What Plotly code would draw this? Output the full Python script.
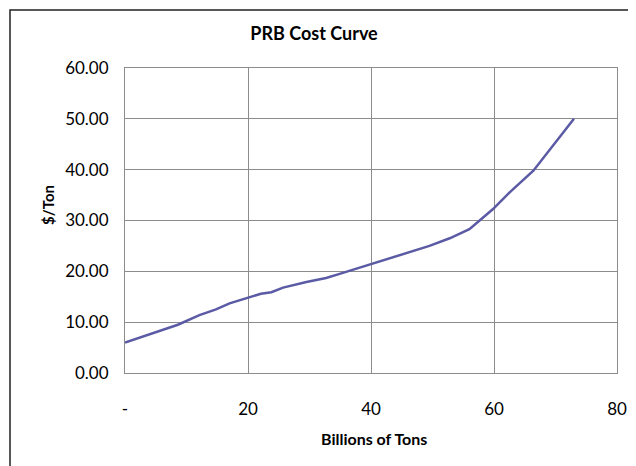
import plotly.graph_objects as go

# Data
billions_tons = [0, 8.6, 12.1, 14.8, 17.0, 20.0, 22.1, 23.8, 25.7, 29.5, 32.7, 34.9, 38.1,
                 40.0, 43.5, 46.3, 49.5, 52.8, 56.0, 59.8, 62.5, 66.4, 69.6, 73.0]
cost_per_ton = [6.0, 9.5, 11.4, 12.5, 13.7, 14.8, 15.6, 15.9, 16.8, 17.9, 18.7, 19.5, 20.7,
                21.4, 22.6, 23.8, 25.0, 26.5, 28.3, 32.2, 35.5, 39.8, 44.7, 50.0]

x_tickvals = [0, 20, 40, 60, 80]
x_ticktext = ["-", "20", "40", "60", "80"]

FONT = "Lato"

fig = go.Figure()
fig.add_trace(go.Scatter(
    x=billions_tons, y=cost_per_ton, mode="lines",
    line=dict(color="#5B5BA5", width=2.5),
    showlegend=False, hoverinfo="x+y",
))

W, H = 636, 466
ml, mr, mt, mb = 117, 27, 60, 101
pw, ph = W - ml - mr, H - mt - mb


def px_x(v):
    return (v - ml) / pw


def px_y(v):
    return 1 - (v - mt) / ph


fig.update_layout(
    width=W, height=H,
    margin=dict(l=ml, r=mr, t=mt, b=mb),
    paper_bgcolor="white", plot_bgcolor="white",
    font=dict(family=FONT, size=17, color="black"),
    title=dict(text="<b>PRB Cost Curve</b>", x=px_x(306), xref="paper",
               xanchor="center", y=1 - 26 / H, yanchor="middle",
               font=dict(family=FONT, size=18, color="black")),
    xaxis=dict(range=[0, 80], tickvals=x_tickvals, ticktext=x_ticktext,
               showgrid=True, gridcolor="#8C8C8C", gridwidth=1,
               showline=True, linecolor="#8C8C8C", linewidth=1, mirror=True,
               zeroline=False, ticks="", ticklabelstandoff=21),
    yaxis=dict(range=[0, 60], dtick=10, tickformat=".2f",
               showgrid=True, gridcolor="#8C8C8C", gridwidth=1,
               showline=True, linecolor="#8C8C8C", linewidth=1, mirror=True,
               zeroline=False, ticks="", ticklabelstandoff=12),
    annotations=[
        dict(text="<b>Billions of Tons</b>", xref="paper", yref="paper",
             x=px_x(366), y=px_y(430), xanchor="center", yanchor="middle",
             showarrow=False, font=dict(family=FONT, size=16)),
        dict(text="<b>$/Ton</b>", xref="paper", yref="paper",
             x=px_x(40), y=px_y(197), xanchor="center", yanchor="middle",
             textangle=-90, showarrow=False, font=dict(family=FONT, size=15)),
    ],
    shapes=[dict(type="rect", xref="paper", yref="paper",
                 x0=px_x(2), x1=px_x(W + 20),
                 y0=px_y(H + 20), y1=px_y(2),
                 line=dict(color="#222222", width=1.5), layer="below")],
)

fig.write_html("out.html")
